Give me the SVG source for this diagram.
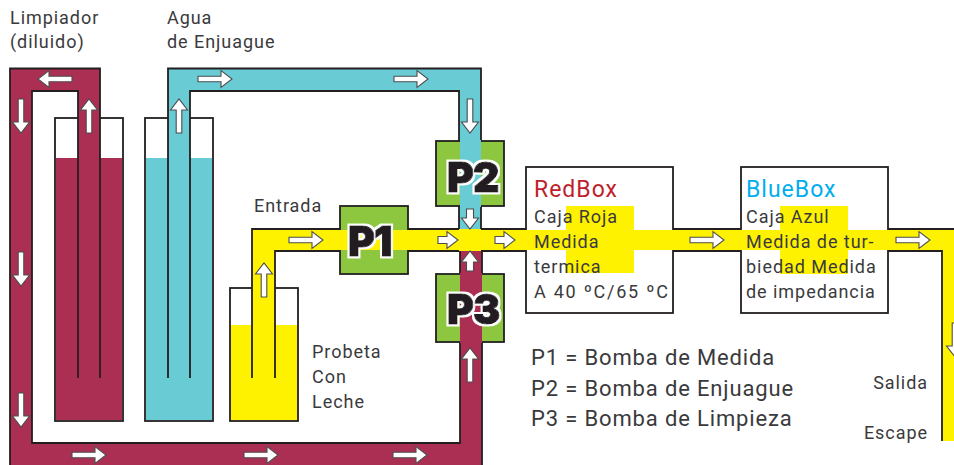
<svg xmlns="http://www.w3.org/2000/svg" width="954" height="465" viewBox="0 0 954 465">
<style>
text{font-family:"Roboto","Liberation Sans",sans-serif;fill:#3a3a3c;font-size:18px;letter-spacing:.95px}
.e{fill:none;stroke:#231f20;stroke-width:1.8}
.t{fill:#fff;stroke:#231f20;stroke-width:1.8}
.c{fill:#ab2f53}.b{fill:#69cbd4}.y{fill:#fff200}.g{fill:#8dc63f;stroke:#231f20;stroke-width:1.8}
.p{font-family:"Inter","Liberation Sans",sans-serif;font-weight:900;font-size:41px;fill:#231f20;stroke:#231f20;stroke-width:1px;letter-spacing:-1px;filter:url(#halo)}
.h{font-size:23px;letter-spacing:1px}.m{font-size:22px;letter-spacing:.85px}
.a{fill:#fff;stroke:#4d4d4f;stroke-width:1.1}
</style>
<defs>
<filter id="halo" x="-20%" y="-20%" width="140%" height="140%"><feMorphology in="SourceAlpha" operator="dilate" radius="1.6" result="d"/><feFlood flood-color="#fff"/><feComposite in2="d" operator="in" result="w"/><feMerge><feMergeNode in="w"/><feMergeNode in="SourceGraphic"/></feMerge></filter>
<path id="L" d="M0-2.800H23V-8.500L34 0 23 8.500V2.800H0Z"/>
<path id="S" d="M0-3.500H9V-8.500L20 0 9 8.500V3.500H0Z"/>
</defs>
<g id="tank-limpiador"><rect class="t" x="55" y="118" width="68" height="303"/><rect class="c" x="56" y="158" width="66" height="262"/></g>
<g id="tank-agua"><rect class="t" x="145" y="118" width="68" height="303"/><rect class="b" x="146" y="158" width="66" height="262"/></g>
<g id="tank-probeta"><rect class="t" x="230" y="288" width="68" height="133"/><rect class="y" x="231" y="325" width="66" height="95"/></g>
<g id="connectors">
<path class="c" d="M10 68.500H100V378H78V91H32V443H460V251H482V465H10Z"/>
<path class="b" d="M168 378V68.500H481V229H459V91H190V378Z"/>
<path class="y" d="M252 378V229H526V251H275V378Z"/>
<path class="y" d="M673 229H741V251H673Z"/>
<path class="y" d="M888 229H954V441H942V251H888Z"/>
<path class="e" d="M78 378V91H32V443H460V342M100 378V68.500H10V465M482 465V342M460 274V251M482 274V251"/>
<path class="e" d="M168 378V68.500H481V141M190 378V91H459V141M459 206V229M481 206V229"/>
<path class="e" d="M252 378V229H340M275 378V251H340M408 229H459M481 229H526M408 251H459M481 251H526M673 229H741M673 251H741M888 229H954M888 251H942V441"/>
</g>
<g id="box-redbox"><rect class="t" x="526" y="167" width="147" height="146"/><rect class="y" x="566" y="206" width="68" height="67"/><rect class="y" x="525" y="230" width="149" height="20"/>
<text class="h" x="534" y="197" style="fill:#be1e2d">RedBox</text><text x="534" y="222.500">Caja Roja</text><text x="534" y="247.500">Medida</text><text x="534" y="272.500">termica</text><text x="534" y="297.500" style="letter-spacing:1.75px">A 40 ºC/65 ºC</text></g>
<g id="box-bluebox"><rect class="t" x="741" y="167" width="147" height="146"/><rect class="y" x="780" y="206" width="68" height="68"/><rect class="y" x="740" y="230" width="149" height="20"/>
<text class="h" x="746" y="197" style="fill:#00aeef">BlueBox</text><text x="746" y="222.500">Caja Azul</text><text x="746" y="247.500">Medida de tur-</text><text x="746" y="272.500">biedad Medida</text><text x="746" y="297.500">de impedancia</text></g>
<g id="pump-p1"><rect class="g" x="340" y="206" width="68" height="68"/><rect class="y" x="339" y="230" width="70" height="20"/><text class="p" x="348" y="256">P1</text></g>
<g id="pump-p2"><rect class="g" x="436" y="141" width="68" height="65"/><rect class="b" x="460" y="140" width="21" height="67"/><text class="p" x="447" y="192">P2</text></g>
<g id="pump-p3"><rect class="g" x="436" y="274" width="68" height="68"/><rect class="c" x="460" y="273" width="22" height="70"/><text class="p" x="447" y="324">P3</text></g>
<g id="arrows" class="a">
<use href="#L" transform="translate(72 79) rotate(180)"/>
<use href="#L" transform="translate(21 99) rotate(90)"/>
<use href="#L" transform="translate(21 252) rotate(90)"/>
<use href="#L" transform="translate(21 393) rotate(90)"/>
<use href="#L" transform="translate(89 133) rotate(-90)"/>
<use href="#L" transform="translate(198 79)"/>
<use href="#L" transform="translate(179 133) rotate(-90)"/>
<use href="#L" transform="translate(394 79)"/>
<use href="#L" transform="translate(470 99) rotate(90)"/>
<use href="#S" transform="translate(470 209) rotate(90)"/>
<use href="#L" transform="translate(289 240)"/>
<use href="#L" transform="translate(264 297) rotate(-90)"/>
<use href="#S" transform="translate(438 240)"/>
<use href="#S" transform="translate(495 240)"/>
<use href="#S" transform="translate(470 271) rotate(-90)"/>
<use href="#L" transform="translate(470 382) rotate(-90)"/>
<use href="#L" transform="translate(72 455)"/>
<use href="#L" transform="translate(244 455)"/>
<use href="#L" transform="translate(393 455)"/>
<use href="#L" transform="translate(690 240)"/>
<use href="#L" transform="translate(896 240)"/>
<use href="#L" transform="translate(955 323) rotate(90)"/>
</g>
<g id="labels">
<text x="10" y="24">Limpiador</text><text x="10" y="48">(diluido)</text>
<text x="167" y="24">Agua</text><text x="167" y="48">de Enjuague</text>
<text x="254" y="212">Entrada</text>
<text x="312" y="358">Probeta</text><text x="312" y="383">Con</text><text x="312" y="408">Leche</text>
<text class="m" x="531" y="365">P1 = Bomba de Medida</text><text class="m" x="531" y="396">P2 = Bomba de Enjuague</text><text class="m" x="531" y="426">P3 = Bomba de Limpieza</text>
<text x="928" y="389" text-anchor="end">Salida</text><text x="928" y="439" text-anchor="end">Escape</text>
</g>
</svg>
